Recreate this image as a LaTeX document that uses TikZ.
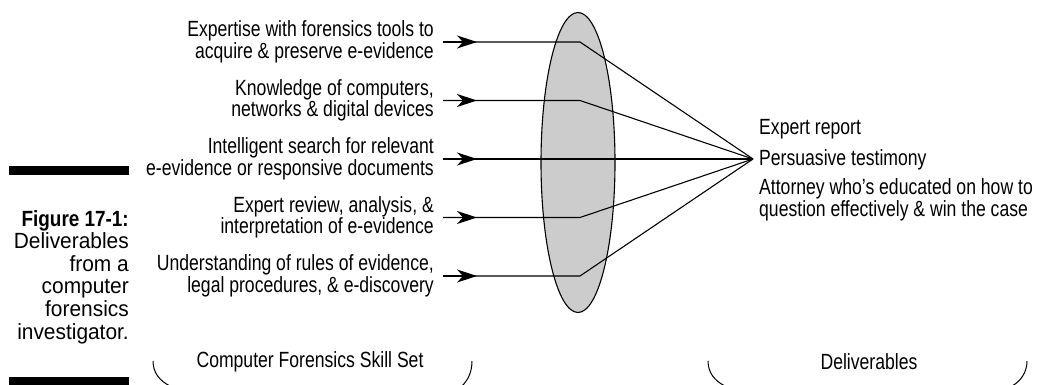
\documentclass[tikz,border=0pt]{standalone}
\usepackage{fontspec}
\setmainfont{Liberation Sans}
\newfontfamily\narrowfont[FakeStretch=0.8]{Liberation Sans}
\newfontfamily\capfont[FakeStretch=0.95]{Liberation Sans}
\newfontfamily\capbold[FakeStretch=0.86]{Liberation Sans}
\usetikzlibrary{arrows.meta,shapes.geometric}
\definecolor{lensgray}{HTML}{CCCCCC}
\begin{document}
\begin{tikzpicture}[x=1pt,y=-1pt,
  lbl/.style={font=\narrowfont\fontsize{22}{20}\selectfont, inner sep=0pt, align=right, anchor=east},
  rlbl/.style={font=\narrowfont\fontsize{22}{20}\selectfont, inner sep=0pt, align=left, anchor=west},
  blbl/.style={font=\narrowfont\fontsize{22}{20}\selectfont, inner sep=0pt},
  feed/.style={line width=1.1pt, line join=round},
  tip/.style={-{Stealth[length=20pt,width=13pt,inset=6pt]}, line width=1.1pt},
  brace/.style={line width=1pt},
  bar/.style={fill=black}
]
\useasboundingbox (0,0) rectangle (1038,385);

% caption
\fill[bar] (9,166) rectangle (129,175);
\fill[bar] (9,377) rectangle (129,385);
\node[font=\capfont\fontsize{22}{22.6}\selectfont, align=right, anchor=north east, inner sep=0pt] (cap) at (129,210)
  {{\capbold\bfseries Figure 17-1:}\\Deliverables\\from a\\computer\\forensics\\investigator.};

% lens
\node[ellipse, draw, line width=1.1pt, fill=lensgray, minimum width=74pt, minimum height=300pt, inner sep=0pt] (lens) at (578,162.5) {};

% coordinates
\foreach \i/\yy in {1/42,2/100.5,3/159,4/217.5,5/276}{
  \coordinate (s\i) at (443,\yy);
  \coordinate (a\i) at (477,\yy);
  \coordinate (b\i) at (580,\yy);
}
\coordinate (conv) at (753,159);

% connectors
\draw[feed] (s1) -- (b1) -- (conv);
\draw[feed] (s2) -- (b2) -- (conv);
\draw[feed] (s3) -- (conv);
\draw[feed] (s4) -- (b4) -- (conv);
\draw[feed] (s5) -- (b5) -- (conv);
\foreach \i in {1,...,5}{ \draw[tip] (s\i) -- (a\i); }

% skill labels
\node[lbl] (k1) at (434,42) {Expertise with forensics tools to\\acquire \& preserve e-evidence};
\node[lbl] (k2) at (434,100.5) {Knowledge of computers,\\networks \& digital devices};
\node[lbl] (k3) at (434,159) {Intelligent search for relevant\\e-evidence or responsive documents};
\node[lbl] (k4) at (434,217.5) {Expert review, analysis, \&\\interpretation of e-evidence};
\node[lbl] (k5) at (434,276) {Understanding of rules of evidence,\\legal procedures, \& e-discovery};

% deliverables
\node[rlbl] (d1) at (759,129) {Expert report};
\node[rlbl] (d2) at (759,160) {Persuasive testimony};
\node[rlbl] (d3) at (759,200) {Attorney who’s educated on how to\\question effectively \& win the case};

% bottom brackets
\draw[brace] (153,361) .. controls (153,373) and (160,381) .. (170,386);
\draw[brace] (472,361) .. controls (472,372) and (468,380) .. (462,386);
\draw[brace] (708,361) .. controls (708,373) and (715,381) .. (725,386);
\draw[brace] (1027,361) .. controls (1027,372) and (1021,381) .. (1012,386);
\node[blbl] (g1) at (310,362) {Computer Forensics Skill Set};
\node[blbl] (g2) at (869,362) {Deliverables};
\end{tikzpicture}
\end{document}
